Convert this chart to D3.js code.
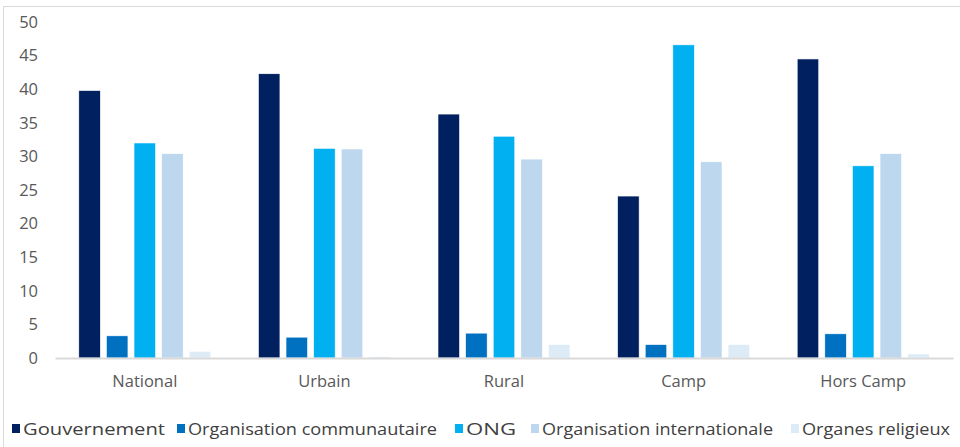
<!DOCTYPE html>
<html>
<head>
<meta charset="utf-8">
<script src="https://cdn.jsdelivr.net/npm/d3@7"></script>
<style>
  html, body { margin: 0; padding: 0; background: #fff; }
  svg { display: block; }
</style>
</head>
<body>
<svg id="chart" width="960" height="447"></svg>
<script>
const categories = ["National", "Urbain", "Rural", "Camp", "Hors Camp"];
const seriesNames = ["Gouvernement", "Organisation communautaire", "ONG", "Organisation internationale", "Organes religieux"];
const gouvernement = [39.8, 42.3, 36.3, 24.1, 44.5];
const communautaire = [3.3, 3.1, 3.7, 2.0, 3.6];
const ong = [32.0, 31.2, 33.0, 46.6, 28.6];
const internationale = [30.4, 31.1, 29.6, 29.2, 30.4];
const religieux = [1.0, 0.2, 2.0, 2.0, 0.6];
const yTicks = [0, 5, 10, 15, 20, 25, 30, 35, 40, 45, 50];
const colors = ["#002060", "#0070C0", "#00B0F0", "#BDD7EE", "#DDEBF7"];

const seriesValues = [gouvernement, communautaire, ong, internationale, religieux];

const svg = d3.select("#chart");

// chart frame
svg.append("rect")
  .attr("x", 3.5).attr("y", 6.5).attr("width", 970).attr("height", 460)
  .attr("fill", "none").attr("stroke", "#d9d9d9").attr("stroke-width", 1);

const plotLeft = 55, plotRight = 953, plotTop = 22, plotBottom = 358;

const y = d3.scaleLinear().domain([0, 50]).range([plotBottom, plotTop]);
const x0 = d3.scaleBand().domain(categories).range([plotLeft, plotRight])
  .paddingInner(0.265).paddingOuter(0.1325);
const x1 = d3.scaleBand().domain(seriesNames).range([0, x0.bandwidth()]).paddingInner(0.22);

// y axis labels
const yAxis = d3.axisLeft(y).tickValues(yTicks).tickSize(0).tickPadding(0);
const gy = svg.append("g").attr("transform", "translate(38,0)").call(yAxis);
gy.select(".domain").remove();
gy.selectAll("text")
  .attr("fill", "#595959")
  .style("font-family", "'Open Sans', sans-serif")
  .style("font-size", "16.5px");

// bars
const groups = svg.append("g").selectAll("g")
  .data(categories)
  .join("g")
  .attr("transform", d => `translate(${x0(d)},0)`);

groups.selectAll("rect")
  .data((c, i) => seriesNames.map((s, j) => ({ s, v: seriesValues[j][i], j })))
  .join("rect")
  .attr("x", d => x1(d.s))
  .attr("width", x1.bandwidth())
  .attr("y", d => y(d.v))
  .attr("height", d => y(0) - y(d.v))
  .attr("fill", d => colors[d.j])
  .attr("stroke", "#ffffff")
  .attr("stroke-width", 0.6);

// x axis
const xAxis = d3.axisBottom(x0).tickSize(0).tickPadding(17);
const gx = svg.append("g").attr("transform", `translate(0,${plotBottom})`).call(xAxis);
gx.select(".domain").attr("stroke", "#d9d9d9").attr("stroke-width", 2);
gx.selectAll("text")
  .attr("fill", "#595959")
  .style("font-family", "'Open Sans', sans-serif")
  .style("font-size", "16.5px");

// legend
const legendX = [12, 177, 455, 531, 791];
const legendW = [142, 249, 50, 231, 148];
const legend = svg.append("g").attr("transform", "translate(0,429)");
seriesNames.forEach((s, i) => {
  legend.append("rect")
    .attr("x", legendX[i]).attr("y", -5).attr("width", 8).attr("height", 9)
    .attr("fill", colors[i]);
  legend.append("text")
    .attr("x", legendX[i] + 11).attr("y", 0)
    .attr("dy", "0.35em")
    .attr("fill", "#404040")
    .attr("textLength", legendW[i])
    .attr("lengthAdjust", "spacingAndGlyphs")
    .style("font-family", "'Open Sans', sans-serif")
    .style("font-size", "16px")
    .text(s);
});
</script>
</body>
</html>
